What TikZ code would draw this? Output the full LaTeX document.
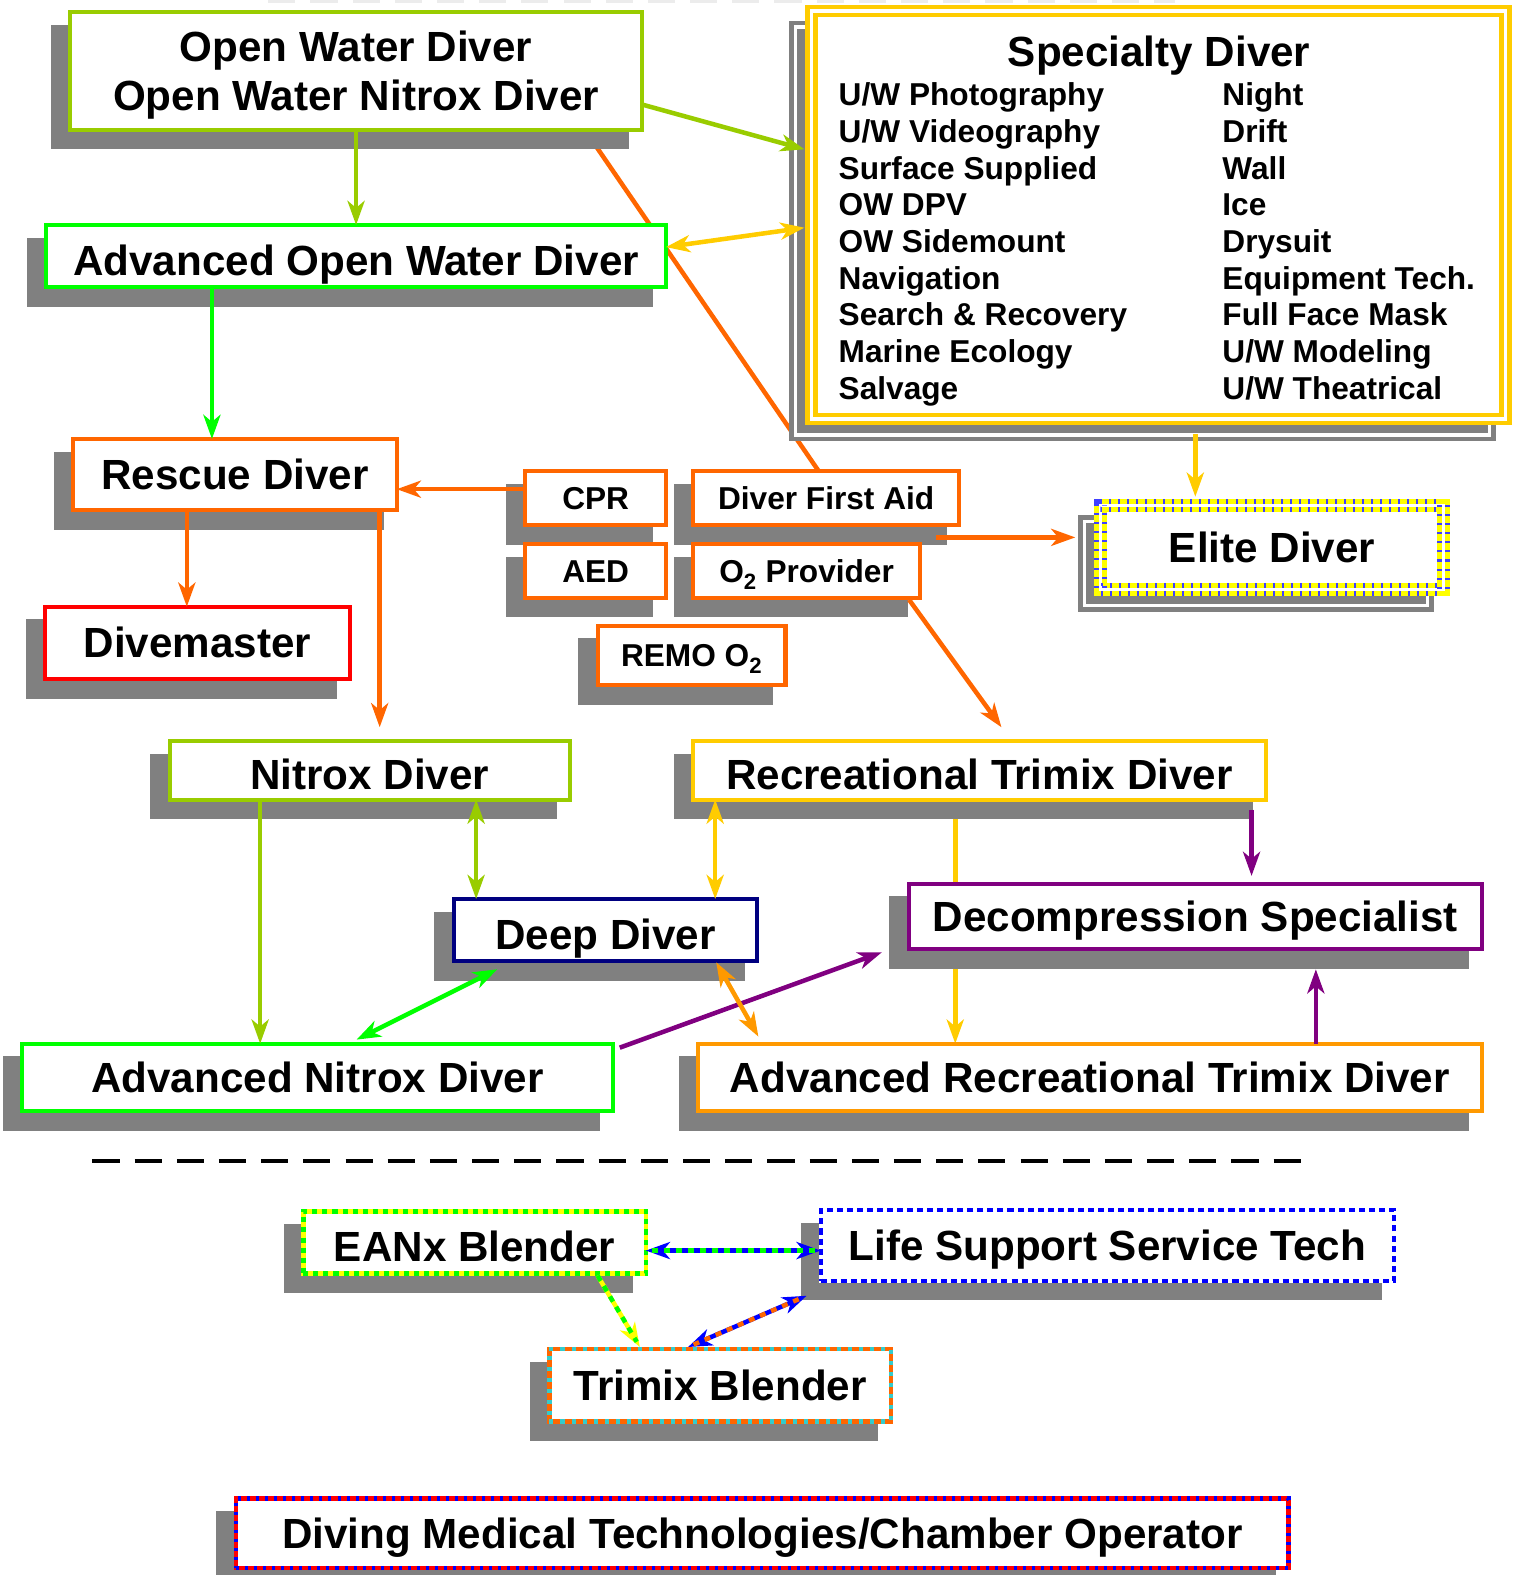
\documentclass[tikz,border=0pt]{standalone}
\usepackage{fontspec}
\setmainfont{Liberation Sans}
\usetikzlibrary{arrows.meta,shadows,calc}
\definecolor{owg}{HTML}{99CC00}
\definecolor{lgreen}{HTML}{00FF00}
\definecolor{orng}{HTML}{FF6600}
\definecolor{gold}{HTML}{FFCC00}
\definecolor{rd}{HTML}{FF0000}
\definecolor{nvy}{HTML}{000080}
\definecolor{prp}{HTML}{800080}
\definecolor{orb}{HTML}{FF9900}
\definecolor{cyn}{HTML}{33CCCC}
\definecolor{blu}{HTML}{0000FF}
\definecolor{ylw}{HTML}{FFFF00}
\definecolor{shd}{HTML}{808080}
\pgfdeclarelayer{bg}
\pgfsetlayers{bg,main}
\tikzset{
  boxshadow/.style={drop shadow={shadow xshift=-16pt,shadow yshift=-16pt,opacity=1,fill=shd,draw=shd,line width=7pt}},
  dblshadow/.style={drop shadow={shadow xshift=-16pt,shadow yshift=-16pt,opacity=1,fill=shd,draw=shd,double=white,line width=4.5pt,double distance=3.5pt}},
  bigfont/.style={font=\fontsize{42}{49}\selectfont\bfseries},
  bigtxt/.style={bigfont, text height=30pt, text depth=0pt},
  lowtxt/.style={bigfont, text height=38pt, text depth=0pt},
  smalltxt/.style={font=\fontsize{31.5}{36.5}\selectfont\bfseries, text height=22.5pt, text depth=0pt},
  box/.style={rectangle, fill=white, line width=4pt, inner sep=0pt, outer sep=0pt, boxshadow},
  plain/.style={inner sep=0pt, outer sep=0pt},
  tip/.tip={Stealth[length=24pt,width=17pt,inset=7pt]},
  conn/.style={line width=4.5pt, -tip},
  dconn/.style={line width=4.5pt, tip-tip},
  link/.style={line width=4.5pt},
}
\begin{document}
\begin{tikzpicture}[x=1pt,y=-1pt]
\useasboundingbox (0,0) rectangle (1513,1568);
\draw[shd!15, line width=3pt, dash pattern=on 27pt off 15pt] (267,1) -- (1170,1);

% ---------- boxes ----------
\node[box, draw=owg, bigfont, minimum width=569pt, minimum height=117pt] (ow) at (354.5,70.5)
  {\raisebox{0pt}[30pt][49pt]{\begin{tabular}[t]{@{}c@{}}Open Water Diver\\Open Water Nitrox Diver\end{tabular}}};
\node[box, draw=lgreen, lowtxt, minimum width=617pt, minimum height=62pt] (aow) at (354.5,255) {Advanced Open Water Diver};
\node[rectangle, fill=white, draw=gold, double=white, line width=4.5pt, double distance=3.5pt, inner sep=0pt, dblshadow,
      minimum width=691pt, minimum height=406pt] (spec) at (1153.5,214) {};
\node[plain, bigtxt] (spect) at (1154,51) {Specialty Diver};
\foreach \t [count=\i] in {U/W Photography,U/W Videography,Surface Supplied,OW DPV,OW Sidemount,Navigation,Search \& Recovery,Marine Ecology,Salvage}
  {\node[plain, smalltxt, anchor=west] (sl\i) at (835,{94+36.5*(\i-1)}) {\t};}
\foreach \t [count=\i] in {Night,Drift,Wall,Ice,Drysuit,Equipment Tech.,Full Face Mask,U/W Modeling,U/W Theatrical}
  {\node[plain, smalltxt, anchor=west] (sr\i) at (1217,{94+36.5*(\i-1)}) {\t};}

\node[box, draw=orng, bigtxt, minimum width=322pt, minimum height=71pt] (rescue) at (234,472.5) {Rescue Diver};
\node[box, draw=orng, smalltxt, minimum width=140pt, minimum height=54pt] (cpr) at (593,496) {CPR};
\node[box, draw=orng, smalltxt, minimum width=265pt, minimum height=54pt] (dfa) at (822.5,496) {Diver First Aid};
\node[box, draw=orng, smalltxt, minimum width=140pt, minimum height=53pt] (aed) at (593,568.5) {AED};
\node[box, draw=orng, smalltxt, minimum width=226pt, minimum height=53pt] (o2p) at (803,568.5) {O\textsubscript{2} Provider};
\node[box, draw=orng, smalltxt, minimum width=187pt, minimum height=59pt] (remo) at (688.5,652.5) {REMO O\textsubscript{2}};

\node[rectangle, fill=white, draw=ylw, double=white, line width=5pt, double distance=3pt, inner sep=0pt,
      drop shadow={shadow xshift=-16pt,shadow yshift=-16pt,opacity=1,fill=shd,draw=shd,double=white,line width=5pt,double distance=3pt},
      postaction={draw=blu!75, double=white, line width=5pt, double distance=3pt, dash pattern=on 2pt off 7pt},
      bigtxt, minimum width=341pt, minimum height=84pt] (elite) at (1266.5,545) {Elite Diver};

\node[box, draw=rd, bigtxt, minimum width=303pt, minimum height=72pt] (dm) at (196.5,640) {Divemaster};
\node[box, draw=owg, lowtxt, minimum width=398pt, minimum height=58pt] (nitrox) at (368,767) {Nitrox Diver};
\node[box, draw=gold, lowtxt, minimum width=570pt, minimum height=58pt] (rtd) at (975,767) {Recreational Trimix Diver};
\node[box, draw=nvy, lowtxt, minimum width=302pt, minimum height=62pt] (deep) at (603,926) {Deep Diver};
\node[box, draw=prp, bigtxt, minimum width=570pt, minimum height=65pt] (decomp) at (1190,912.5) {Decompression Specialist};
\node[box, draw=lgreen, bigtxt, minimum width=588pt, minimum height=67pt] (anx) at (316,1072.5) {Advanced Nitrox Diver};
\node[box, draw=orb, bigtxt, minimum width=780pt, minimum height=67pt] (art) at (1085,1072.5) {Advanced Recreational Trimix Diver};

\draw[line width=4.5pt, dash pattern=on 27pt off 15pt] (92,1156) -- (1308,1156);

\node[box, draw=ylw, line width=4.5pt, postaction={draw=lgreen, line width=4.5pt, dash pattern=on 5pt off 5pt},
      lowtxt, minimum width=341pt, minimum height=62pt] (eanx) at (472.5,1237) {EANx Blender};
\node[box, draw=white, line width=4pt, postaction={draw=blu, line width=4pt, dash pattern=on 6pt off 4pt},
      bigtxt, minimum width=571pt, minimum height=70pt] (lsst) at (1102.5,1240) {Life Support Service Tech};
\node[box, draw=orng, line width=4.5pt, postaction={draw=cyn, line width=4.5pt, dash pattern=on 4pt off 7pt},
      bigtxt, minimum width=340pt, minimum height=72pt] (tmb) at (717,1379) {Trimix Blender};
\node[box, draw=rd, line width=4.5pt, postaction={draw=blu, line width=4.5pt, dash pattern=on 3pt off 6pt},
      bigtxt, minimum width=1048pt, minimum height=69pt] (dmt) at (759,1526.5) {Diving Medical Technologies/Chamber Operator};

% ---------- connectors under boxes ----------
\begin{pgfonlayer}{bg}
\draw[link, orng] (ow.south -| 582,0) -- (dfa.north -| 815,0);
\draw[conn, gold] (rtd.south -| 951,0) -- (art.north -| 951,0);
\end{pgfonlayer}

% ---------- connectors ----------
\draw[conn, owg] (ow.south) -- (aow.north);
\draw[conn, owg, shorten >=5pt] (ow.east |- 0,104) -- (spec.west |- 0,150);
\draw[dconn, gold, shorten >=5pt] (aow.east |- 0,246) -- (spec.west |- 0,226);
\draw[conn, lgreen] (aow.south -| 211,0) -- (rescue.north -| 211,0);
\draw[conn, orng] (cpr.west |- 0,487) -- (rescue.east |- 0,487);
\draw[conn, orng] (rescue.south -| 186,0) -- (dm.north -| 186,0);
\draw[conn, orng, shorten >=14pt] (rescue.south -| 378,0) -- (nitrox.north -| 378,0);
\draw[conn, orng] ($(dfa.south east)+(-23,12)$) -- ($(elite.west)+(-23,-10)$);
\draw[conn, orng] ($(o2p.south east)+(-11,2)$) -- ($(rtd.north)+(22,-14)$);
\draw[conn, gold] ($(spec.south)+(36.5,13)$) -- ($(elite.north)+(-76.5,-6)$);
\draw[dconn, owg] (nitrox.south -| 474,0) -- (deep.north -| 474,0);
\draw[conn, owg] (nitrox.south -| 259,0) -- (anx.north -| 259,0);
\draw[dconn, gold] (rtd.south -| 712,0) -- (deep.north -| 712,0);
\draw[conn, prp, shorten <=10pt, shorten >=8pt] (rtd.south -| 1246,0) -- (decomp.north -| 1246,0);
\draw[conn, prp, shorten >=20pt] (art.north -| 1310,0) -- (decomp.south -| 1310,0);
\draw[dconn, lgreen] ($(anx.north)+(39,-4)$) -- ($(deep.south)+(-108,8)$);
\draw[conn, prp] ($(anx.north east)+(7,4)$) -- ($(decomp.south west)+(-27,3)$);
\draw[dconn, orb] ($(deep.south east)+(-41,1)$) -- ($(art.north west)+(60,-7)$);
\draw[dconn, blu, postaction={draw=lgreen, line width=4.5pt, -, dash pattern=on 6pt off 6pt, shorten <=6pt, shorten >=6pt}]
  (eanx.east |- 0,1245) -- (lsst.west |- 0,1245);
\draw[conn, ylw, postaction={draw=lgreen, line width=4.5pt, -, dash pattern=on 6pt off 6pt, shorten >=6pt}]
  ($(eanx.south)+(122.5,2)$) -- ($(tmb.north)+(-80,-2)$);
\draw[dconn, blu, postaction={draw=orng, line width=4.5pt, -, dash pattern=on 6pt off 6pt, shorten <=6pt, shorten >=6pt}]
  ($(tmb.north)+(-32,-2)$) -- ($(lsst.south west)+(-14,15)$);
\end{tikzpicture}
\end{document}
